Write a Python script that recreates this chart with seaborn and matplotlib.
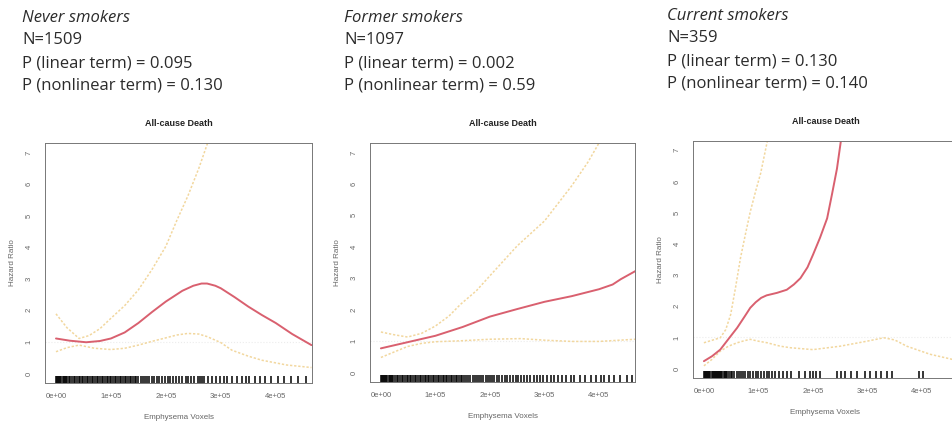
import numpy as np
import pandas as pd
import matplotlib
matplotlib.use("Agg")
import matplotlib.pyplot as plt
import seaborn as sns

# ---- data (x in units of 1e5 emphysema voxels) ----
groups = ["Never smokers", "Former smokers", "Current smokers"]
n_labels = ["N=1509", "N=1097", "N=359"]
p_linear = ["0.095", "0.002", "0.130"]
p_nonlinear = ["0.130", "0.59", "0.140"]

# never smokers
never_hr_x = [0, 0.25, 0.55, 0.8, 1.0, 1.25, 1.5, 1.75, 2.0, 2.3, 2.5, 2.65, 2.75, 2.9, 3.0, 3.25, 3.5, 3.75, 4.0, 4.3, 4.65]
never_hr_y = [1.11, 1.04, 0.99, 1.03, 1.11, 1.3, 1.6, 1.95, 2.28, 2.62, 2.78, 2.85, 2.85, 2.78, 2.7, 2.42, 2.12, 1.85, 1.6, 1.25, 0.9]
never_up_x = [0, 0.2, 0.42, 0.6, 0.8, 1.0, 1.25, 1.5, 1.75, 2.0, 2.2, 2.4, 2.6, 2.8]
never_up_y = [1.89, 1.45, 1.11, 1.2, 1.42, 1.75, 2.15, 2.65, 3.3, 4.03, 4.85, 5.62, 6.5, 7.5]
never_lo_x = [0, 0.2, 0.42, 0.7, 1.0, 1.25, 1.5, 1.75, 2.0, 2.2, 2.4, 2.6, 2.75, 3.0, 3.2, 3.5, 3.75, 4.2, 4.65]
never_lo_y = [0.69, 0.82, 0.9, 0.8, 0.76, 0.8, 0.9, 1.02, 1.13, 1.22, 1.27, 1.25, 1.17, 0.98, 0.74, 0.55, 0.42, 0.27, 0.19]

# former smokers
former_hr_x = [0, 0.5, 1.0, 1.5, 2.0, 2.5, 3.0, 3.5, 4.0, 4.25, 4.4, 4.67]
former_hr_y = [0.77, 0.97, 1.17, 1.45, 1.78, 2.02, 2.25, 2.43, 2.65, 2.8, 2.97, 3.23]
former_up_x = [0, 0.25, 0.49, 0.75, 1.0, 1.25, 1.46, 1.75, 2.0, 2.5, 3.0, 3.5, 3.8, 4.05]
former_up_y = [1.29, 1.2, 1.13, 1.25, 1.48, 1.8, 2.17, 2.6, 3.08, 4.03, 4.82, 5.94, 6.7, 7.45]
former_lo_x = [0, 0.25, 0.49, 0.75, 1.0, 1.46, 2.0, 2.56, 3.0, 3.5, 4.0, 4.67]
former_lo_y = [0.48, 0.66, 0.83, 0.93, 0.98, 1.01, 1.06, 1.08, 1.03, 0.99, 0.99, 1.06]

# current smokers
current_hr_x = [0, 0.15, 0.3, 0.45, 0.61, 0.75, 0.85, 0.95, 1.05, 1.15, 1.34, 1.52, 1.65, 1.77, 1.9, 2.0, 2.13, 2.26, 2.35, 2.44, 2.52]
current_hr_y = [0.24, 0.4, 0.61, 0.95, 1.31, 1.68, 1.95, 2.13, 2.27, 2.35, 2.43, 2.53, 2.7, 2.9, 3.25, 3.65, 4.2, 4.82, 5.6, 6.41, 7.4]
current_up_x = [0, 0.3, 0.4, 0.49, 0.58, 0.67, 0.76, 0.85, 0.95, 1.04, 1.16, 1.2]
current_up_y = [0.83, 0.99, 1.25, 1.73, 2.6, 3.54, 4.3, 5.03, 5.7, 6.26, 7.27, 7.6]
current_lo_x = [0, 0.15, 0.3, 0.45, 0.61, 0.75, 0.85, 1.0, 1.16, 1.4, 1.59, 2.0, 2.5, 2.99, 3.3, 3.5, 3.72, 3.95, 4.15, 4.55, 4.7]
current_lo_y = [0.09, 0.3, 0.56, 0.72, 0.83, 0.9, 0.94, 0.88, 0.83, 0.72, 0.67, 0.61, 0.72, 0.88, 0.99, 0.92, 0.72, 0.58, 0.46, 0.3, 0.25]

# rug (observed emphysema voxels, thousands)
never_rug = [0, 2, 4, 6, 8, 10, 12, 14, 16, 18, 20, 23, 26, 29, 32, 35, 38, 41, 44, 47, 50, 53, 56, 59,
             62, 65, 68, 71, 74, 77, 80, 83, 86, 89, 92, 95, 98, 101, 104, 107, 110, 113, 116, 119, 122,
             125, 128, 131, 134, 137, 140, 143, 146, 150, 154, 158, 162, 166, 170, 174, 178, 183, 188,
             193, 198, 203, 208, 213, 218, 224, 230, 236, 240, 246, 252, 258, 262, 266, 270, 276, 284,
             292, 298, 305, 312, 320, 330, 338, 345, 352, 362, 372, 380, 392, 405, 415, 428, 440, 455]
former_rug = [0, 2, 4, 6, 8, 10, 12, 14, 16, 18, 20, 23, 26, 29, 32, 35, 38, 41, 44, 47, 50, 53, 56, 59,
              62, 65, 68, 71, 74, 77, 80, 83, 86, 89, 92, 95, 98, 101, 104, 107, 110, 113, 116, 119, 122,
              125, 128, 131, 134, 137, 140, 143, 146, 149, 152, 156, 160, 164, 168, 172, 176, 180, 184,
              188, 192, 196, 200, 204, 208, 212, 217, 222, 227, 232, 237, 242, 247, 252, 257, 262, 268,
              274, 280, 286, 292, 298, 305, 312, 318, 325, 333, 340, 348, 355, 365, 375, 385, 395, 404,
              410, 418, 428, 438, 452, 460]
current_rug = [0, 2, 4, 6, 8, 10, 12, 14, 16, 18, 20, 22, 24, 26, 28, 30, 32, 34, 36, 38, 40, 43, 46,
               49, 52, 56, 60, 64, 68, 72, 76, 80, 85, 90, 95, 100, 105, 110, 115, 120, 125, 130, 138,
               145, 152, 160, 175, 185, 195, 200, 205, 212, 245, 252, 258, 270, 280, 295, 305, 315, 325,
               335, 345, 395, 402]

panels = [
    (never_hr_x, never_hr_y, never_up_x, never_up_y, never_lo_x, never_lo_y, never_rug),
    (former_hr_x, former_hr_y, former_up_x, former_up_y, former_lo_x, former_lo_y, former_rug),
    (current_hr_x, current_hr_y, current_up_x, current_up_y, current_lo_x, current_lo_y, current_rug),
]

sns.set_style("white")
plt.rcParams["font.family"] = ["Liberation Sans", "DejaVu Sans"]

fig = plt.figure(figsize=(9.52, 4.28), dpi=100)

# axes boxes in pixels: left, top, right, bottom
boxes = [(45, 143, 312, 383), (370, 143, 635, 382), (693, 141, 958, 378)]
headers_xy = [(22, 18), (344, 18), (667, 16)]

red = "#d9606f"
ci = "#f2d79e"
txt = "#2b2b2b"

for i, (hx, hy, ux, uy, lx, ly, rug) in enumerate(panels):
    l, t, r, b = boxes[i]
    ax = fig.add_axes([l / 952, (428 - b) / 428, (r - l) / 952, (b - t) / 428])

    ax.axhline(1, color="#ececec", lw=0.8, ls=":")
    sns.lineplot(x=np.array(ux) * 1e5, y=uy, ax=ax, color=ci, lw=1.1, ls=(0, (1.5, 1.2)), sort=False)
    sns.lineplot(x=np.array(lx) * 1e5, y=ly, ax=ax, color=ci, lw=1.1, ls=(0, (1.5, 1.2)), sort=False)
    sns.lineplot(x=np.array(hx) * 1e5, y=hy, ax=ax, color=red, lw=1.4, sort=False)
    sns.rugplot(x=np.array(rug) * 1e3, ax=ax, height=0.03, color="black", linewidth=1.1,
                expand_margins=False)

    ax.set_xlim(-20000, 466000)
    ax.set_ylim(-0.3, 7.3)
    ax.set_xticks([0, 100000, 200000, 300000, 400000])
    ax.set_xticklabels(["0e+00", "1e+05", "2e+05", "3e+05", "4e+05"])
    ax.set_yticks(range(0, 8))
    ax.set_yticklabels([str(v) for v in range(0, 8)], rotation=90, va="center")
    ax.tick_params(axis="both", length=3, width=0.6, color="#666666", labelsize=5.5,
                   labelcolor="#666666", direction="out", pad=4)
    ax.tick_params(axis="y", pad=6)
    for s in ax.spines.values():
        s.set_color("#777777")
        s.set_linewidth(0.7)
    ax.set_title("All-cause Death", fontsize=6.5, fontweight="bold", color="#222222", pad=12)
    ax.set_xlabel("Emphysema Voxels", fontsize=5.8, color="#666666", labelpad=10)
    ax.set_ylabel("Hazard Ratio", fontsize=5.8, color="#666666", labelpad=7)

    # header block
    x0, y0 = headers_xy[i]
    lines = [groups[i], n_labels[i], "P (linear term) = " + p_linear[i],
             "P (nonlinear term) = " + p_nonlinear[i]]
    for k, line in enumerate(lines):
        fig.text(x0 / 952, 1 - (y0 + k * 22.5) / 428, line, fontsize=12, color=txt,
                 family=["Open Sans", "DejaVu Sans"], style="italic" if k == 0 else "normal",
                 va="center", ha="left")

fig.savefig("out.png", dpi=100, facecolor="white")
